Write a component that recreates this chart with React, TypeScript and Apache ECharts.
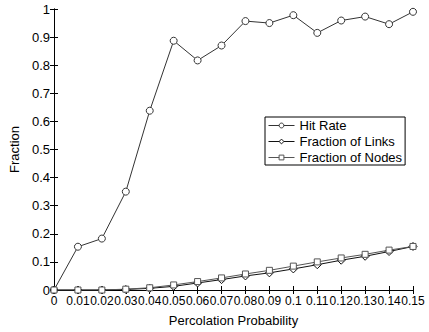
import React, { useEffect, useRef } from "react";
import * as echarts from "echarts";

const xValues = [0, 0.01, 0.02, 0.03, 0.04, 0.05, 0.06, 0.07, 0.08, 0.09, 0.1, 0.11, 0.12, 0.13, 0.14, 0.15];
const hitRate = [0, 0.154, 0.183, 0.35, 0.638, 0.887, 0.817, 0.87, 0.957, 0.95, 0.978, 0.915, 0.959, 0.973, 0.946, 0.99];
const fractionLinks = [0, 0, 0, 0.002, 0.006, 0.013, 0.025, 0.037, 0.05, 0.061, 0.075, 0.09, 0.106, 0.12, 0.137, 0.155];
const fractionNodes = [0, 0, 0, 0.003, 0.008, 0.018, 0.03, 0.043, 0.057, 0.07, 0.085, 0.1, 0.114, 0.127, 0.142, 0.155];

const FONT = "'Liberation Sans', Arial, Helvetica, sans-serif";

const pairs = (ys: number[]) => xValues.map((x, i) => [x, ys[i]]);
const fmt = (v: number) => String(Math.round(v * 100) / 100);

export default function App() {
  const ref = useRef<HTMLDivElement>(null);
  useEffect(() => {
    if (!ref.current) return;
    const chart = echarts.init(ref.current, undefined, { renderer: "svg" });
    const axisLine = { show: true, lineStyle: { color: "#000", width: 1 } };
    const lineSeries = (name: string, data: number[], symbol: string, size: number, color: string) => ({
      name,
      type: "line",
      data: pairs(data),
      symbol,
      symbolSize: size,
      showSymbol: true,
      itemStyle: { color: "#fff", borderColor: color, borderWidth: 1 },
      lineStyle: { color, width: 1 },
      emphasis: { disabled: true },
    });
    chart.setOption({
      animation: false,
      backgroundColor: "#fff",
      textStyle: { fontFamily: FONT },
      grid: { left: 42, right: 16, top: 9, bottom: 34, containLabel: false },
      legend: {
        left: 265,
        top: 117,
        orient: "vertical",
        backgroundColor: "#fff",
        borderColor: "#000",
        borderWidth: 1,
        borderRadius: 0,
        padding: [2, 3, 1, 3],
        itemGap: 3,
        itemWidth: 26,
        itemHeight: 6,
        lineStyle: { width: 1 },
        itemStyle: { borderWidth: 1 },
        textStyle: { fontSize: 13, color: "#000", fontFamily: FONT },
        data: ["Hit Rate", "Fraction of Links", "Fraction of Nodes"],
      },
      xAxis: [
        {
          type: "value",
          min: 0,
          max: 0.15,
          interval: 0.01,
          name: "Percolation Probability",
          nameLocation: "middle",
          nameGap: 24,
          nameTextStyle: { fontSize: 13, color: "#000", fontFamily: FONT },
          axisLine,
          axisTick: { show: true, inside: true, length: 4, lineStyle: { color: "#000" } },
          axisLabel: { fontSize: 12, color: "#000", margin: 5, formatter: fmt, fontFamily: FONT, showMaxLabel: true, showMinLabel: true },
          splitLine: { show: false },
        },
        {
          type: "value",
          position: "top",
          min: 0,
          max: 0.15,
          interval: 0.01,
          axisLine,
          axisTick: { show: true, inside: true, length: 4, lineStyle: { color: "#000" } },
          axisLabel: { show: false },
          splitLine: { show: false },
        },
      ],
      yAxis: [
        {
          type: "value",
          min: 0,
          max: 1,
          interval: 0.1,
          name: "Fraction",
          nameLocation: "middle",
          nameGap: 33,
          nameTextStyle: { fontSize: 13, color: "#000", fontFamily: FONT },
          axisLine,
          axisTick: { show: true, inside: true, length: 4, lineStyle: { color: "#000" } },
          axisLabel: { fontSize: 13, color: "#000", margin: 4, formatter: fmt, fontFamily: FONT },
          splitLine: { show: false },
        },
        {
          type: "value",
          position: "right",
          min: 0,
          max: 1,
          interval: 0.1,
          axisLine,
          axisTick: { show: true, inside: true, length: 4, lineStyle: { color: "#000" } },
          axisLabel: { show: false },
          splitLine: { show: false },
        },
      ],
      series: [
        lineSeries("Hit Rate", hitRate, "circle", 7, "#333"),
        lineSeries("Fraction of Links", fractionLinks, "diamond", 8, "#111"),
        lineSeries("Fraction of Nodes", fractionNodes, "rect", 6, "#555"),
      ],
    });
    return () => chart.dispose();
  }, []);
  return <div ref={ref} style={{ width: 429, height: 332, position: "absolute", left: 0, top: 0 }} />;
}
